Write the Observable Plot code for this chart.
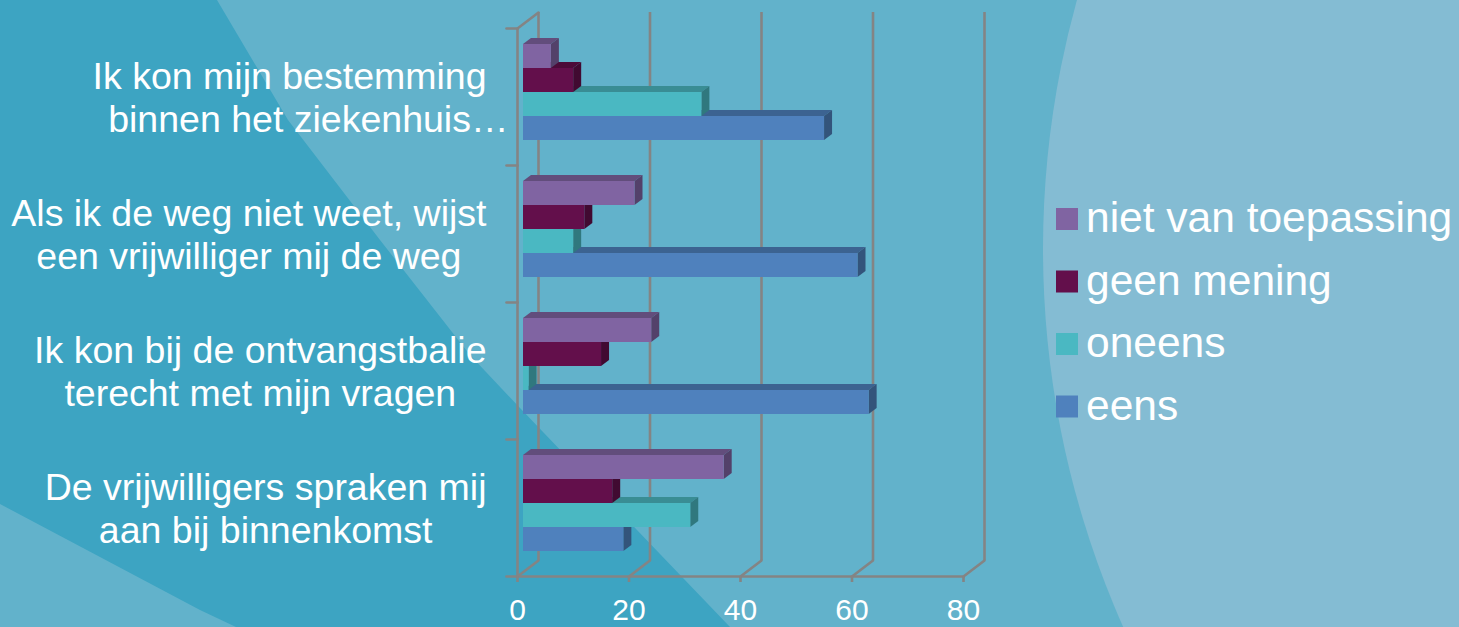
<!DOCTYPE html>
<html>
<head>
<meta charset="utf-8">
<script src="https://cdn.jsdelivr.net/npm/d3@7"></script>
<script src="https://cdn.jsdelivr.net/npm/@observablehq/plot@0.6"></script>
<style>
  html, body { margin: 0; padding: 0; background: #62b2cb; }
  #wrap { position: relative; width: 1459px; height: 627px; overflow: hidden; font-family: "Liberation Sans", Arial, sans-serif; }
  #wrap > * { position: absolute; left: 0; top: 0; }
</style>
</head>
<body>
<div id="wrap">
  <svg id="bg" width="1459" height="627">
    <rect width="1459" height="627" fill="#62b2cb"/>
    <path d="M0,0 L217,0 L288,120 L380,240 L470,355 L520,408 L730,627 L236,627 L200,610 L0,504 Z" fill="#3da4c2"/>
    <circle cx="1974" cy="249" r="931" fill="#84bcd3"/>
  </svg>
</div>
<script>
// ---------- data ----------
const questions = [
  "Ik kon mijn bestemming binnen het ziekenhuis…",
  "Als ik de weg niet weet, wijst een vrijwilliger mij de weg",
  "Ik kon bij de ontvangstbalie terecht met mijn vragen",
  "De vrijwilligers spraken mij aan bij binnenkomst"
];
const questionLines = [
  ["Ik kon mijn bestemming", "binnen het ziekenhuis…"],
  ["Als ik de weg niet weet, wijst", "een vrijwilliger mij de weg"],
  ["Ik kon bij de ontvangstbalie", "terecht met mijn vragen"],
  ["De vrijwilligers spraken mij", "aan bij binnenkomst"]
];
const series = ["niet van toepassing", "geen mening", "oneens", "eens"];
const colors = ["#8064a2", "#630f4b", "#4ab8c2", "#4f81bd"];
const nietVanToepassing = [5, 20, 23, 36];
const geenMening = [9, 11, 14, 16];
const oneens = [32, 9, 1, 30];
const eens = [54, 60, 62, 18];
const xTicks = [0, 20, 40, 60, 80];

// ---------- table (bottom bar first so upper bars overlap correctly) ----------
const seriesValues = [nietVanToepassing, geenMening, oneens, eens];
const table = [];
questions.forEach((q, qi) => {
  for (let si = series.length - 1; si >= 0; si--) {
    table.push({question: q, series: series[si], value: seriesValues[si][qi]});
  }
});

const W = 1459, H = 627;
const mL = 517, mR = 496, mT = 27, mB = 51;
const gray = "#848484";
const sw = 2.6;
const font = "'Liberation Sans', Arial, sans-serif";
const seg = {draw(context, l) { context.moveTo(0, 0); context.lineTo(0, -l); }};
const depthX = 21, depthY = 16;
const diagLen = Math.hypot(depthX, depthY);
const diagRot = Math.atan2(depthX, depthY) * 180 / Math.PI;
const line = {shape: seg, anchor: "start", stroke: gray, strokeWidth: sw};

const chart = Plot.plot({
  width: W, height: H,
  marginLeft: mL, marginRight: mR, marginTop: mT, marginBottom: mB,
  style: {background: "transparent", overflow: "visible", fontFamily: font},
  x: {domain: [0, 80], axis: null, label: null},
  fy: {domain: questions, padding: 0, axis: null},
  y: {domain: series, paddingInner: 0, paddingOuter: 0.745, align: 0.4, axis: null},
  color: {domain: series, range: colors},
  marks: [
    // back wall gridlines
    Plot.ruleX(xTicks, {dx: depthX, dy: -depthY, stroke: gray, strokeWidth: sw}),
    // floor diagonals
    Plot.vector(xTicks, {x: d => d, frameAnchor: "bottom", facetAnchor: "bottom", length: diagLen, rotate: diagRot, ...line}),
    // left wall top diagonal
    Plot.vector([0], {frameAnchor: "top-left", facetAnchor: "top", length: diagLen, rotate: diagRot, ...line}),
    // front left axis
    Plot.ruleX([0], {stroke: gray, strokeWidth: sw}),
    // category ticks
    Plot.vector([0], {frameAnchor: "top-left", length: 11, rotate: -90, ...line}),
    Plot.vector([0], {frameAnchor: "bottom-left", facetAnchor: "bottom", length: 11, rotate: -90, ...line}),
    // floor front line
    Plot.frame({anchor: "bottom", facetAnchor: "bottom", stroke: gray, strokeWidth: sw}),
    Plot.axisX({ticks: xTicks, tickSize: 6, tickPadding: 16, label: null, stroke: gray, strokeWidth: sw, fill: "white", fontSize: 30, fontFamily: font}),
    // bars
    Plot.barX(table, {fy: "question", y: "series", x: "value", fill: "series", dx: 6})
  ]
});

// 3D faces of the bars, derived from the rendered bar geometry
const bx = 8, by = 6;
d3.select(chart).selectAll('g[aria-label="bar"] rect').each(function() {
  const r = this;
  const x = +r.getAttribute("x"), y = +r.getAttribute("y");
  const w = +r.getAttribute("width"), h = +r.getAttribute("height");
  const c = d3.color(r.getAttribute("fill"));
  const top = document.createElementNS("http://www.w3.org/2000/svg", "polygon");
  top.setAttribute("points", `${x},${y} ${x + bx},${y - by} ${x + w + bx},${y - by} ${x + w},${y}`);
  top.setAttribute("fill", c.darker(0.75).formatHex());
  const side = document.createElementNS("http://www.w3.org/2000/svg", "polygon");
  side.setAttribute("points", `${x + w},${y} ${x + w + bx},${y - by} ${x + w + bx},${y + h - by} ${x + w},${y + h}`);
  side.setAttribute("fill", c.darker(1.2).formatHex());
  r.parentNode.insertBefore(top, r);
  r.parentNode.insertBefore(side, r);
});
document.getElementById("wrap").appendChild(chart);

// ---------- category labels (centered lines, block right-aligned) ----------
const labelSize = 37.5, labelRight = 486;
const ctx = document.createElement("canvas").getContext("2d");
ctx.font = `${labelSize}px 'Liberation Sans'`;
const core = s => s.replace(/…$/, "");
const labelRows = [];
questionLines.forEach((lines, qi) => {
  const widths = lines.map(l => ctx.measureText(core(l)).width);
  const center = labelRight - d3.max(widths) / 2;
  lines.forEach((t, li) => labelRows.push({question: questions[qi], line: li, text: t, x: center - widths[li] / 2}));
});
const labels = Plot.plot({
  width: mL, height: H, margin: 0,
  style: {background: "transparent", overflow: "visible", fontFamily: font},
  x: {type: "identity", axis: null},
  y: {type: "band", domain: questions, range: [mT, H - mB], padding: 0, axis: null},
  marks: [
    Plot.text(labelRows.filter(d => d.line === 0), {x: "x", y: "question", text: "text", textAnchor: "start", dy: -20.5, fill: "white", fontSize: labelSize}),
    Plot.text(labelRows.filter(d => d.line === 1), {x: "x", y: "question", text: "text", textAnchor: "start", dy: 22.5, fill: "white", fontSize: labelSize})
  ]
});
document.getElementById("wrap").appendChild(labels);

// ---------- legend ----------
const leg = d3.select("#wrap").append("svg")
  .attr("width", 403).attr("height", 290)
  .style("left", "1056px").style("top", "178px");
const rows = leg.selectAll("g").data(series).join("g")
  .attr("transform", (d, i) => `translate(0,${30 + i * 62.5})`);
rows.append("rect").attr("width", 22).attr("height", 22).attr("fill", (d, i) => colors[i]);
rows.append("text").attr("x", 30).attr("y", 24).attr("fill", "white")
  .style("font-family", font).style("font-size", "42.5px").text(d => d);
</script>
</body>
</html>
